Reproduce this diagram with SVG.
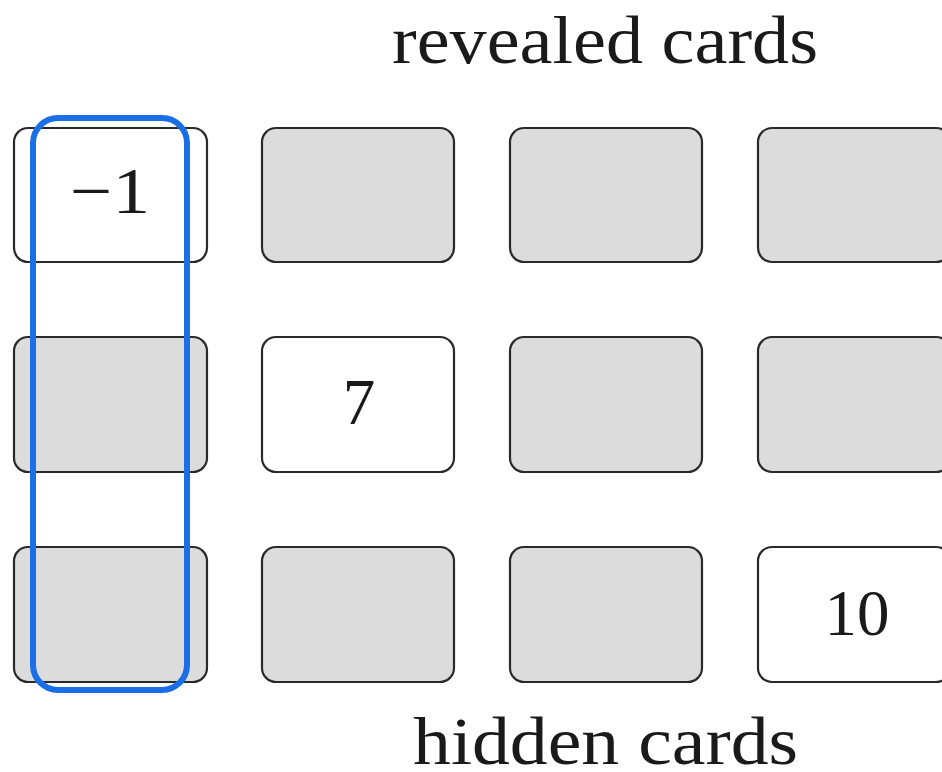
<svg xmlns="http://www.w3.org/2000/svg" width="942" height="772" viewBox="0 0 942 772">
<style>
.card{stroke:#2a2a2a;stroke-width:2.2}
.hid{fill:#dcdcdc}
.rev{fill:#ffffff}
.t{font-family:"Liberation Serif","Times New Roman",serif;fill:#1a1a1a}
.num{font-size:65px;text-anchor:middle}
.lbl{font-size:67px}
</style>
<rect width="942" height="772" fill="#ffffff"/>
<text class="t lbl" x="392" y="63" textLength="426" lengthAdjust="spacingAndGlyphs">revealed cards</text>
<g id="r1c1"><rect class="card rev" x="14" y="128" width="193" height="134" rx="14"/><text class="t" style="font-size:65px" x="70" y="213" textLength="80" lengthAdjust="spacingAndGlyphs">−1</text></g>
<g id="r1c2"><rect class="card hid" x="262" y="128" width="192" height="134" rx="14"/></g>
<g id="r1c3"><rect class="card hid" x="510" y="128" width="192" height="134" rx="14"/></g>
<g id="r1c4"><rect class="card hid" x="758" y="128" width="192" height="134" rx="14"/></g>
<g id="r2c1"><rect class="card hid" x="14" y="337" width="193" height="135" rx="14"/></g>
<g id="r2c2"><rect class="card rev" x="262" y="337" width="192" height="135" rx="14"/><text class="t num" x="359" y="424">7</text></g>
<g id="r2c3"><rect class="card hid" x="510" y="337" width="192" height="135" rx="14"/></g>
<g id="r2c4"><rect class="card hid" x="758" y="337" width="192" height="135" rx="14"/></g>
<g id="r3c1"><rect class="card hid" x="14" y="547" width="193" height="135" rx="14"/></g>
<g id="r3c2"><rect class="card hid" x="262" y="547" width="192" height="135" rx="14"/></g>
<g id="r3c3"><rect class="card hid" x="510" y="547" width="192" height="135" rx="14"/></g>
<g id="r3c4"><rect class="card rev" x="758" y="547" width="192" height="135" rx="14"/><text class="t num" x="857" y="635">10</text></g>
<g id="column"><rect x="33" y="118" width="154" height="572" rx="25" fill="none" stroke="#1a6fe6" stroke-width="6"/></g>
<text class="t lbl" x="413" y="764" textLength="385" lengthAdjust="spacingAndGlyphs">hidden cards</text>
</svg>
